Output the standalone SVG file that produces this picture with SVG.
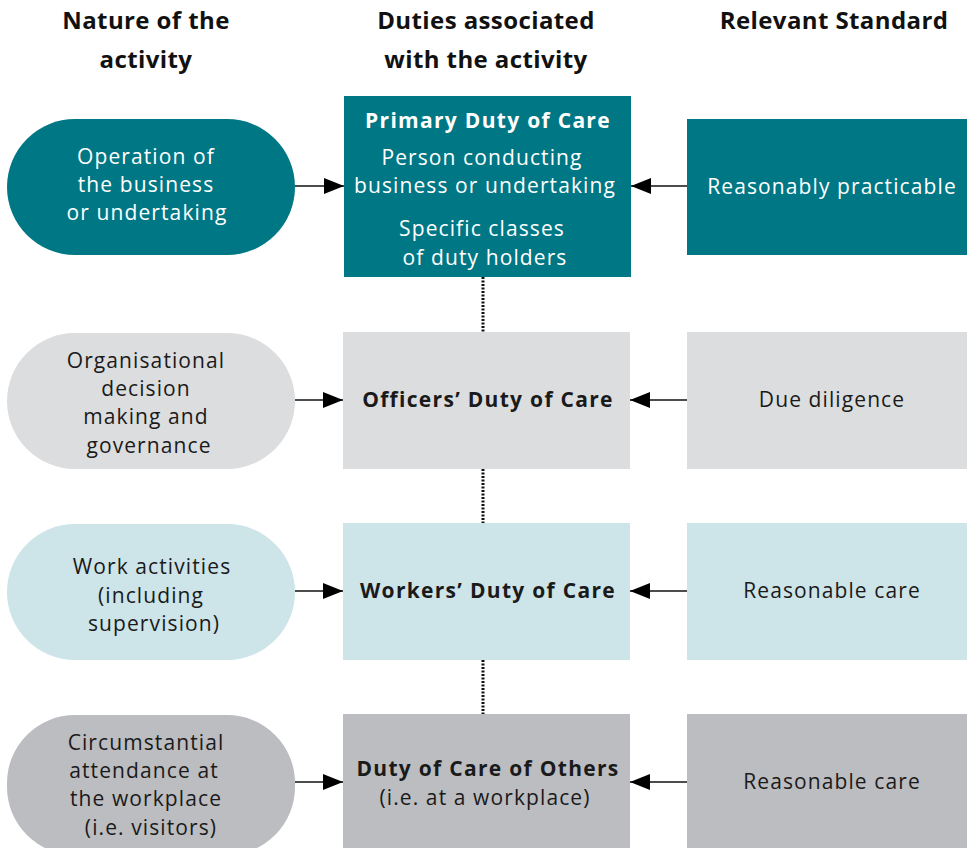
<svg xmlns="http://www.w3.org/2000/svg" width="967" height="848" viewBox="0 0 967 848">
<defs>
<style>
.hd{font-family:"Open Sans","Liberation Sans",sans-serif;font-weight:bold;font-size:24px;letter-spacing:0.4px;fill:#111;text-anchor:middle}
.t{font-family:"Open Sans","Liberation Sans",sans-serif;font-size:21px;letter-spacing:1.1px;text-anchor:middle;fill:#1a1a1a}
.b{font-weight:bold;letter-spacing:1.3px}
.w{fill:#fff}
.teal{fill:#007785}
.lg{fill:#dcdddf}
.lt{fill:#cde4e8}
.g{fill:#bcbdc1}
.ln{stroke:#111;stroke-width:1.3;fill:none}
.dot{stroke:#111;stroke-width:3;stroke-dasharray:2 1.5;fill:none}
</style>
<marker id="ah2" markerWidth="20" markerHeight="16" viewBox="0 0 20 16" refX="20" refY="8" orient="auto" markerUnits="userSpaceOnUse">
<path d="M0,0 L20,8 L0,16 z" fill="#000"/>
</marker>
</defs>
<rect width="967" height="848" fill="#fff"/>
<g id="headers">
<text class="hd" x="146" y="29">Nature of the</text>
<text class="hd" x="146" y="68">activity</text>
<text class="hd" x="486" y="29">Duties associated</text>
<text class="hd" x="486" y="68">with the activity</text>
<text class="hd" x="834" y="29">Relevant Standard</text>
</g>
<g id="connectors">
<line class="dot" x1="483" y1="277" x2="483" y2="332"/>
<line class="dot" x1="483" y1="469" x2="483" y2="523"/>
<line class="dot" x1="483" y1="660" x2="483" y2="714"/>
<line class="ln" x1="295" y1="186" x2="344" y2="186" marker-end="url(#ah2)"/>
<line class="ln" x1="687" y1="186" x2="631" y2="186" marker-end="url(#ah2)"/>
<line class="ln" x1="295" y1="400" x2="343" y2="400" marker-end="url(#ah2)"/>
<line class="ln" x1="687" y1="400" x2="630" y2="400" marker-end="url(#ah2)"/>
<line class="ln" x1="295" y1="591" x2="343" y2="591" marker-end="url(#ah2)"/>
<line class="ln" x1="687" y1="591" x2="630" y2="591" marker-end="url(#ah2)"/>
<line class="ln" x1="295" y1="782" x2="343" y2="782" marker-end="url(#ah2)"/>
<line class="ln" x1="687" y1="782" x2="630" y2="782" marker-end="url(#ah2)"/>
</g>
<g id="activity1">
<rect class="teal" x="7" y="119" width="288" height="136" rx="68" ry="68"/>
<text class="t w" x="146" y="164">Operation of</text>
<text class="t w" x="146" y="192">the business</text>
<text class="t w" x="147" y="220">or undertaking</text>
</g>
<g id="duty1">
<rect class="teal" x="344" y="96" width="287" height="181"/>
<text class="t w b" x="488" y="128">Primary Duty of Care</text>
<text class="t w" x="482" y="165">Person conducting</text>
<text class="t w" x="485" y="193">business or undertaking</text>
<text class="t w" x="482" y="236">Specific classes</text>
<text class="t w" x="485" y="265">of duty holders</text>
</g>
<g id="standard1">
<rect class="teal" x="687" y="119" width="280" height="136"/>
<text class="t w" x="832" y="194">Reasonably practicable</text>
</g>
<g id="activity2">
<rect class="lg" x="7" y="333" width="288" height="136" rx="68" ry="68"/>
<text class="t" x="146" y="368">Organisational</text>
<text class="t" x="146" y="396">decision</text>
<text class="t" x="146" y="424">making and</text>
<text class="t" x="149" y="453">governance</text>
</g>
<g id="duty2">
<rect class="lg" x="343" y="332" width="287" height="137"/>
<text class="t b" x="488" y="407">Officers’ Duty of Care</text>
</g>
<g id="standard2">
<rect class="lg" x="687" y="332" width="280" height="137"/>
<text class="t" x="832" y="407">Due diligence</text>
</g>
<g id="activity3">
<rect class="lt" x="7" y="524" width="288" height="136" rx="68" ry="68"/>
<text class="t" x="152" y="574">Work activities</text>
<text class="t" x="151" y="603">(including</text>
<text class="t" x="154" y="631">supervision)</text>
</g>
<g id="duty3">
<rect class="lt" x="343" y="523" width="287" height="137"/>
<text class="t b" x="488" y="598">Workers’ Duty of Care</text>
</g>
<g id="standard3">
<rect class="lt" x="687" y="523" width="280" height="137"/>
<text class="t" x="832" y="598">Reasonable care</text>
</g>
<g id="activity4">
<rect class="g" x="7" y="715" width="288" height="140" rx="68" ry="68"/>
<text class="t" x="146" y="750">Circumstantial</text>
<text class="t" x="144" y="778">attendance at</text>
<text class="t" x="146" y="806">the workplace</text>
<text class="t" x="151" y="835">(i.e. visitors)</text>
</g>
<g id="duty4">
<rect class="g" x="343" y="714" width="287" height="134"/>
<text class="t b" x="488" y="776">Duty of Care of Others</text>
<text class="t" x="485" y="805">(i.e. at a workplace)</text>
</g>
<g id="standard4">
<rect class="g" x="687" y="714" width="280" height="134"/>
<text class="t" x="832" y="789">Reasonable care</text>
</g>
</svg>
